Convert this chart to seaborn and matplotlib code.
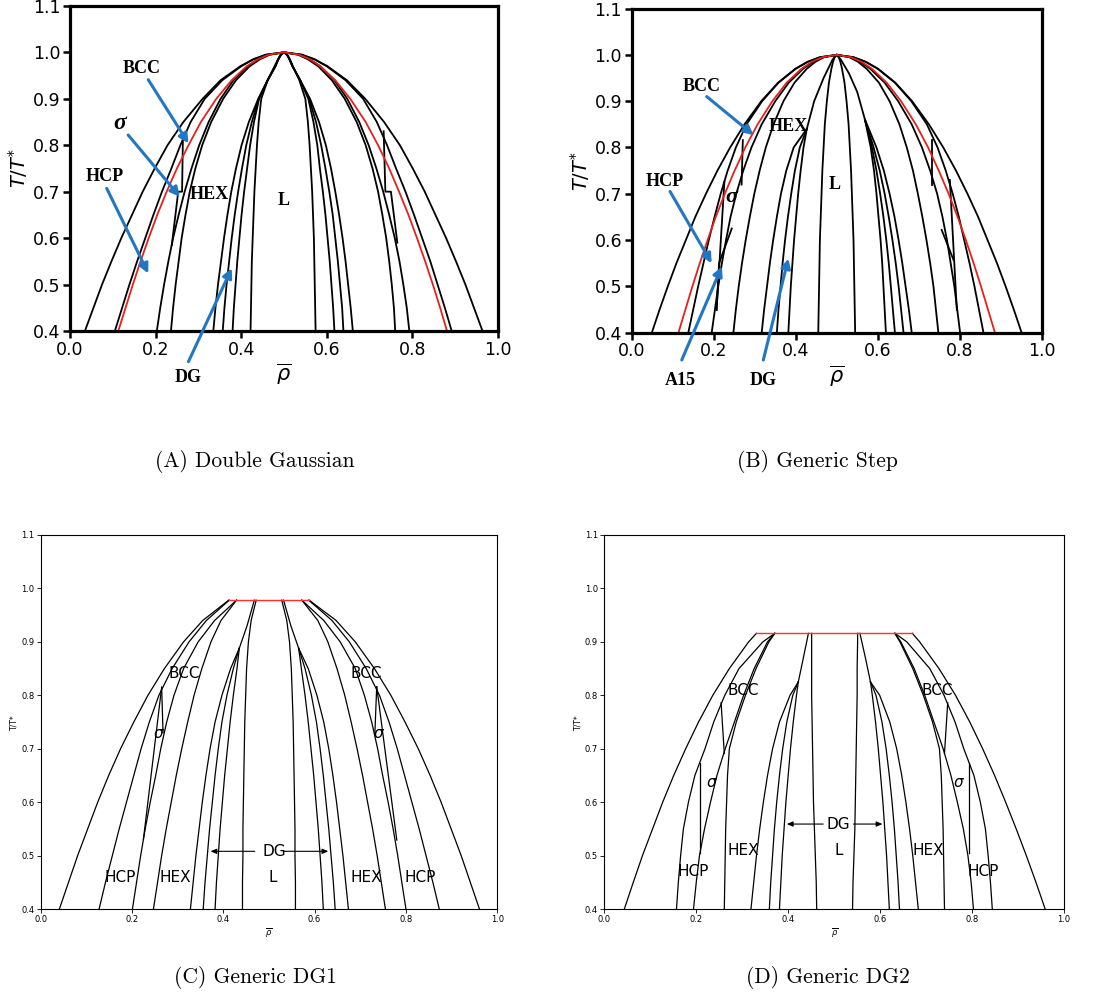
import matplotlib
matplotlib.use("Agg")
import matplotlib.pyplot as plt
import seaborn as sns

# ---------------- panel A : Double Gaussian ----------------
A_T = [0.40, 0.45, 0.50, 0.55, 0.60, 0.65, 0.70, 0.75, 0.80, 0.85, 0.90, 0.94, 0.97, 0.985, 0.995, 1.00]
A_outer_L = [0.035, 0.055, 0.075, 0.097, 0.120, 0.145, 0.170, 0.198, 0.228, 0.265, 0.310, 0.352, 0.398, 0.428, 0.458, 0.500]
A_c2_L = [0.105, 0.122, 0.139, 0.157, 0.176, 0.195, 0.215, 0.237, 0.258, 0.282, 0.315, 0.356, 0.400, 0.429, 0.459, 0.500]
A_c3_L = [0.203, 0.211, 0.220, 0.230, 0.241, 0.254, 0.268, 0.284, 0.302, 0.324, 0.352, 0.382, 0.415, 0.440, 0.465, 0.500]
A_c4_L = [0.236, 0.241, 0.247, 0.254, 0.261, 0.270, 0.280, 0.293, 0.309, 0.330, 0.358, 0.388, 0.420, 0.444, 0.467, 0.500]
A_g1_L = [0.335, 0.340, 0.346, 0.353, 0.360, 0.368, 0.377, 0.388, 0.401, 0.418, 0.440, 0.462, 0.480, 0.487, 0.493, 0.500]
A_g2_L = [0.357, 0.361, 0.366, 0.372, 0.378, 0.385, 0.393, 0.402, 0.412, 0.425, 0.441, 0.462, 0.480, 0.487, 0.493, 0.500]
A_g3_L = [0.380, 0.383, 0.387, 0.391, 0.396, 0.401, 0.407, 0.414, 0.421, 0.430, 0.442, 0.462, 0.480, 0.487, 0.493, 0.500]
A_g4_L = [0.422, 0.423, 0.424, 0.425, 0.427, 0.429, 0.431, 0.434, 0.437, 0.441, 0.447, 0.462, 0.478, 0.486, 0.492, 0.500]
A_g4_R = [0.574, 0.573, 0.572, 0.571, 0.570, 0.568, 0.566, 0.563, 0.560, 0.556, 0.550, 0.536, 0.521, 0.514, 0.508, 0.500]
A_g3_R = [0.618, 0.615, 0.611, 0.607, 0.602, 0.597, 0.591, 0.584, 0.578, 0.569, 0.557, 0.538, 0.520, 0.513, 0.507, 0.500]
A_g2_R = [0.639, 0.636, 0.631, 0.626, 0.620, 0.614, 0.606, 0.597, 0.587, 0.575, 0.559, 0.538, 0.520, 0.513, 0.507, 0.500]
A_g1_R = [0.661, 0.656, 0.650, 0.644, 0.637, 0.629, 0.620, 0.610, 0.598, 0.582, 0.561, 0.538, 0.520, 0.513, 0.507, 0.500]
A_c4_R = [0.760, 0.757, 0.752, 0.746, 0.739, 0.730, 0.720, 0.707, 0.691, 0.670, 0.642, 0.612, 0.580, 0.556, 0.533, 0.500]
A_c3_R = [0.793, 0.787, 0.779, 0.770, 0.759, 0.746, 0.732, 0.716, 0.698, 0.676, 0.648, 0.618, 0.585, 0.560, 0.535, 0.500]
A_c2_R = [0.892, 0.876, 0.859, 0.842, 0.823, 0.804, 0.784, 0.762, 0.741, 0.717, 0.685, 0.644, 0.600, 0.571, 0.541, 0.500]
A_outer_R = [0.964, 0.944, 0.924, 0.902, 0.879, 0.854, 0.829, 0.801, 0.771, 0.734, 0.690, 0.647, 0.602, 0.572, 0.542, 0.500]
A_red_L = [0.113, 0.130, 0.147, 0.165, 0.184, 0.204, 0.226, 0.250, 0.277, 0.306, 0.342, 0.378, 0.413, 0.439, 0.465, 0.500]
A_red_R = [0.881, 0.865, 0.848, 0.830, 0.811, 0.791, 0.769, 0.746, 0.720, 0.691, 0.655, 0.620, 0.585, 0.561, 0.535, 0.500]
A_sig_L_rho = [0.264, 0.262, 0.253, 0.238]
A_sig_L_T = [0.82, 0.70, 0.70, 0.585]
A_sig_R_rho = [0.733, 0.737, 0.750, 0.765]
A_sig_R_T = [0.83, 0.70, 0.70, 0.59]

# ---------------- panel B : Generic Step ----------------
B_T = [0.40, 0.45, 0.50, 0.55, 0.60, 0.65, 0.70, 0.75, 0.80, 0.85, 0.90, 0.94, 0.97, 0.985, 0.995, 1.00]
B_outer_L = [0.049, 0.068, 0.088, 0.109, 0.132, 0.155, 0.181, 0.209, 0.240, 0.275, 0.316, 0.357, 0.399, 0.429, 0.459, 0.500]
B_c2_L = [0.138, 0.150, 0.162, 0.175, 0.188, 0.202, 0.217, 0.234, 0.254, 0.280, 0.318, 0.358, 0.400, 0.429, 0.459, 0.500]
B_c3_L = [0.195, 0.203, 0.211, 0.220, 0.230, 0.241, 0.255, 0.272, 0.292, 0.317, 0.350, 0.383, 0.418, 0.442, 0.466, 0.500]
B_c4_L = [0.248, 0.254, 0.261, 0.269, 0.278, 0.288, 0.299, 0.312, 0.327, 0.346, 0.370, 0.397, 0.427, 0.448, 0.469, 0.500]
B_in_L = [0.455, 0.456, 0.457, 0.458, 0.459, 0.461, 0.463, 0.465, 0.468, 0.471, 0.476, 0.481, 0.487, 0.491, 0.495, 0.500]
B_in_R = [0.545, 0.544, 0.543, 0.542, 0.541, 0.539, 0.537, 0.535, 0.532, 0.529, 0.524, 0.519, 0.513, 0.509, 0.505, 0.500]
B_c4_R = [0.748, 0.742, 0.736, 0.728, 0.719, 0.709, 0.698, 0.686, 0.671, 0.653, 0.629, 0.603, 0.573, 0.552, 0.531, 0.500]
B_c3_R = [0.801, 0.794, 0.787, 0.778, 0.769, 0.758, 0.745, 0.728, 0.708, 0.683, 0.650, 0.617, 0.582, 0.558, 0.534, 0.500]
B_c2_R = [0.858, 0.847, 0.836, 0.824, 0.811, 0.798, 0.783, 0.766, 0.746, 0.720, 0.682, 0.642, 0.600, 0.571, 0.541, 0.500]
B_outer_R = [0.951, 0.932, 0.912, 0.891, 0.868, 0.845, 0.819, 0.791, 0.760, 0.725, 0.684, 0.643, 0.601, 0.571, 0.541, 0.500]
B_red_L = [0.114, 0.131, 0.148, 0.166, 0.185, 0.205, 0.227, 0.251, 0.277, 0.307, 0.343, 0.378, 0.414, 0.439, 0.465, 0.500]
B_red_R = [0.886, 0.869, 0.852, 0.834, 0.815, 0.795, 0.773, 0.749, 0.723, 0.693, 0.657, 0.622, 0.586, 0.561, 0.535, 0.500]
B_fanL_T = [0.40, 0.45, 0.50, 0.55, 0.60, 0.65, 0.70, 0.75, 0.80, 0.84]
B_fanL_1 = [0.317, 0.323, 0.330, 0.337, 0.345, 0.354, 0.364, 0.377, 0.395, 0.427]
B_fanL_2 = [0.354, 0.358, 0.363, 0.368, 0.374, 0.381, 0.389, 0.398, 0.410, 0.427]
B_fanL_3 = [0.382, 0.385, 0.388, 0.392, 0.396, 0.401, 0.406, 0.412, 0.419, 0.427]
B_fanR_T = [0.40, 0.45, 0.50, 0.55, 0.60, 0.65, 0.70, 0.75, 0.80, 0.86]
B_fanR_1 = [0.620, 0.617, 0.614, 0.611, 0.607, 0.602, 0.597, 0.591, 0.583, 0.569]
B_fanR_2 = [0.642, 0.637, 0.632, 0.627, 0.621, 0.614, 0.606, 0.597, 0.586, 0.569]
B_fanR_3 = [0.663, 0.657, 0.651, 0.644, 0.636, 0.627, 0.617, 0.605, 0.590, 0.569]
B_fanR_4 = [0.683, 0.676, 0.668, 0.660, 0.651, 0.641, 0.629, 0.615, 0.597, 0.569]
B_cuspL_rho = [0.427, 0.445, 0.468, 0.490, 0.500]
B_cuspL_T = [0.84, 0.90, 0.95, 0.99, 1.00]
B_cuspR_rho = [0.569, 0.550, 0.530, 0.510, 0.500]
B_cuspR_T = [0.86, 0.92, 0.96, 0.99, 1.00]
B_segs = [
    ([0.271, 0.268], [0.816, 0.720]),
    ([0.226, 0.207], [0.726, 0.449]),
    ([0.207, 0.213, 0.244], [0.449, 0.550, 0.625]),
    ([0.733, 0.733], [0.816, 0.719]),
    ([0.776, 0.793], [0.730, 0.449]),
    ([0.756, 0.785], [0.622, 0.557]),
]

# ---------------- panel C : Generic DG1 ----------------
C_T = [0.40, 0.45, 0.50, 0.55, 0.60, 0.65, 0.70, 0.75, 0.80, 0.85, 0.90, 0.94, 0.978]
C_outer_L = [0.041, 0.061, 0.081, 0.103, 0.125, 0.149, 0.175, 0.204, 0.235, 0.271, 0.313, 0.355, 0.412]
C_c2_L = [0.128, 0.142, 0.157, 0.172, 0.188, 0.204, 0.220, 0.238, 0.259, 0.288, 0.325, 0.363, 0.413]
C_c3_L = [0.201, 0.210, 0.219, 0.229, 0.240, 0.252, 0.263, 0.276, 0.292, 0.313, 0.345, 0.381, 0.429]
C_c4_L = [0.247, 0.256, 0.265, 0.275, 0.286, 0.297, 0.309, 0.322, 0.336, 0.353, 0.373, 0.395, 0.429]
C_in_L = [0.442, 0.442, 0.443, 0.443, 0.444, 0.445, 0.446, 0.447, 0.449, 0.451, 0.455, 0.461, 0.472]
C_in_R = [0.558, 0.558, 0.557, 0.557, 0.556, 0.555, 0.554, 0.553, 0.551, 0.549, 0.545, 0.539, 0.528]
C_c4_R = [0.755, 0.746, 0.737, 0.727, 0.716, 0.705, 0.693, 0.680, 0.666, 0.649, 0.629, 0.607, 0.572]
C_c3_R = [0.800, 0.791, 0.782, 0.772, 0.761, 0.749, 0.738, 0.725, 0.709, 0.689, 0.656, 0.620, 0.572]
C_c2_R = [0.873, 0.859, 0.844, 0.829, 0.813, 0.797, 0.781, 0.763, 0.742, 0.713, 0.676, 0.638, 0.587]
C_outer_R = [0.961, 0.941, 0.921, 0.899, 0.877, 0.853, 0.827, 0.798, 0.767, 0.731, 0.689, 0.647, 0.588]
C_fan_T = [0.40, 0.45, 0.50, 0.55, 0.60, 0.65, 0.70, 0.75, 0.80, 0.85, 0.888]
C_fanL_1 = [0.328, 0.334, 0.340, 0.347, 0.354, 0.362, 0.371, 0.382, 0.397, 0.416, 0.435]
C_fanL_2 = [0.356, 0.360, 0.365, 0.370, 0.376, 0.382, 0.389, 0.397, 0.408, 0.422, 0.435]
C_fanL_3 = [0.382, 0.385, 0.389, 0.393, 0.398, 0.403, 0.409, 0.415, 0.422, 0.430, 0.435]
C_fanR_1 = [0.674, 0.668, 0.662, 0.655, 0.648, 0.640, 0.631, 0.620, 0.605, 0.586, 0.565]
C_fanR_2 = [0.645, 0.641, 0.636, 0.631, 0.625, 0.619, 0.612, 0.604, 0.593, 0.579, 0.565]
C_fanR_3 = [0.619, 0.616, 0.612, 0.608, 0.603, 0.598, 0.592, 0.586, 0.579, 0.571, 0.565]
C_segs = [
    ([0.435, 0.452, 0.468], [0.888, 0.930, 0.978]),
    ([0.565, 0.548, 0.532], [0.888, 0.930, 0.978]),
    ([0.265, 0.268], [0.815, 0.730]),
    ([0.265, 0.225], [0.815, 0.530]),
    ([0.736, 0.732], [0.816, 0.729]),
    ([0.736, 0.780], [0.816, 0.529]),
]
C_top_rho = [0.413, 0.588]
C_top_T = [0.978, 0.978]

# ---------------- panel D : Generic DG2 ----------------
D_T = [0.40, 0.45, 0.50, 0.55, 0.60, 0.65, 0.70, 0.75, 0.80, 0.85, 0.90, 0.916]
D_outer_L = [0.0435, 0.063, 0.083, 0.105, 0.127, 0.151, 0.177, 0.205, 0.236, 0.272, 0.314, 0.331]
D_c2_L = [0.157, 0.161, 0.166, 0.172, 0.183, 0.197, 0.219, 0.238, 0.262, 0.293, 0.345, 0.371]
D_c3_L = [0.194, 0.200, 0.207, 0.218, 0.231, 0.245, 0.263, 0.283, 0.303, 0.326, 0.355, 0.371]
D_c4_L = [0.261, 0.262, 0.263, 0.264, 0.266, 0.268, 0.272, 0.287, 0.307, 0.330, 0.358, 0.371]
D_in_L = [0.462, 0.461, 0.459, 0.457, 0.455, 0.454, 0.453, 0.452, 0.451, 0.451, 0.451, 0.451]
D_in_R = [0.540, 0.541, 0.543, 0.545, 0.546, 0.547, 0.548, 0.549, 0.550, 0.550, 0.551, 0.551]
D_c4_R = [0.740, 0.739, 0.738, 0.737, 0.735, 0.733, 0.729, 0.714, 0.694, 0.671, 0.643, 0.632]
D_c3_R = [0.803, 0.798, 0.791, 0.781, 0.768, 0.754, 0.737, 0.717, 0.697, 0.674, 0.645, 0.632]
D_c2_R = [0.844, 0.840, 0.835, 0.829, 0.818, 0.804, 0.782, 0.763, 0.739, 0.708, 0.658, 0.632]
D_outer_R = [0.959, 0.939, 0.918, 0.896, 0.873, 0.849, 0.823, 0.795, 0.764, 0.728, 0.686, 0.670]
D_fan_T = [0.40, 0.45, 0.50, 0.55, 0.60, 0.65, 0.70, 0.75, 0.80, 0.825]
D_fanL_1 = [0.319, 0.325, 0.331, 0.338, 0.346, 0.355, 0.366, 0.381, 0.404, 0.422]
D_fanL_2 = [0.359, 0.362, 0.366, 0.370, 0.375, 0.381, 0.388, 0.397, 0.410, 0.422]
D_fanL_3 = [0.381, 0.384, 0.387, 0.391, 0.395, 0.400, 0.405, 0.411, 0.418, 0.422]
D_fanR_1 = [0.683, 0.677, 0.671, 0.664, 0.656, 0.647, 0.636, 0.621, 0.599, 0.579]
D_fanR_2 = [0.642, 0.639, 0.635, 0.631, 0.626, 0.620, 0.613, 0.604, 0.591, 0.579]
D_fanR_3 = [0.620, 0.617, 0.614, 0.610, 0.606, 0.601, 0.596, 0.590, 0.583, 0.579]
D_segs = [
    ([0.422, 0.433, 0.444], [0.825, 0.870, 0.916]),
    ([0.579, 0.568, 0.556], [0.825, 0.870, 0.916]),
    ([0.254, 0.261], [0.786, 0.691]),
    ([0.208, 0.208], [0.673, 0.504]),
    ([0.747, 0.740], [0.786, 0.691]),
    ([0.793, 0.793], [0.673, 0.504]),
]
D_top_rho = [0.331, 0.670]
D_top_T = [0.916, 0.916]

BLUE = "#2277c4"
RED = "#e8201c"
SERIF = "Liberation Serif"


def line(ax, rho, temp, color="black", lw=1.2):
    sns.lineplot(x=rho, y=temp, ax=ax, color=color, linewidth=lw,
                 sort=False, estimator=None)


def style_big(ax):
    ax.set_xlim(0, 1)
    ax.set_ylim(0.4, 1.1)
    ax.set_xticks([0, 0.2, 0.4, 0.6, 0.8, 1.0])
    ax.set_xticklabels(["0.0", "0.2", "0.4", "0.6", "0.8", "1.0"])
    ax.set_yticks([0.4, 0.5, 0.6, 0.7, 0.8, 0.9, 1.0, 1.1])
    ax.set_yticklabels(["0.4", "0.5", "0.6", "0.7", "0.8", "0.9", "1.0", "1.1"])
    for s in ax.spines.values():
        s.set_linewidth(2.3)
    ax.tick_params(width=1.8, length=5, labelsize=12.5, pad=2)
    ax.set_xlabel(r"$\overline{\rho}$", fontsize=15, labelpad=2)
    ax.set_ylabel(r"$T/T^{*}$", fontsize=14, labelpad=2)


def style_small(ax):
    ax.set_xlim(0, 1)
    ax.set_ylim(0.4, 1.1)
    ax.set_xticks([0, 0.2, 0.4, 0.6, 0.8, 1.0])
    ax.set_xticklabels(["0.0", "0.2", "0.4", "0.6", "0.8", "1.0"])
    ax.set_yticks([0.4, 0.5, 0.6, 0.7, 0.8, 0.9, 1.0, 1.1])
    ax.set_yticklabels(["0.4", "0.5", "0.6", "0.7", "0.8", "0.9", "1.0", "1.1"])
    for s in ax.spines.values():
        s.set_linewidth(0.8)
    ax.tick_params(width=0.6, length=3, labelsize=6, pad=1.5)
    ax.set_xlabel(r"$\overline{\rho}$", fontsize=6, labelpad=1)
    ax.set_ylabel("T/T*", fontsize=5.5, labelpad=2)


def bold(ax, x, y, s, size=13, style="normal"):
    ax.text(x, y, s, ha="center", va="center", fontsize=size, fontweight="bold",
            fontfamily=SERIF, fontstyle=style, clip_on=False)


def blue_arrow(ax, start, tip):
    ax.annotate("", xy=tip, xytext=start, annotation_clip=False,
                arrowprops=dict(arrowstyle="-|>,head_length=0.55,head_width=0.28",
                                color=BLUE, lw=2.2, shrinkA=0, shrinkB=0))


def dg_arrow(ax, start, tip):
    ax.annotate("", xy=tip, xytext=start,
                arrowprops=dict(arrowstyle="-|>,head_length=0.35,head_width=0.15",
                                color="black", lw=0.8, shrinkA=0, shrinkB=0))


fig = plt.figure(figsize=(11.05, 10.02), dpi=100)
axA = fig.add_axes([0.0633, 0.6697, 0.3873, 0.3244])
axB = fig.add_axes([0.5717, 0.6680, 0.3710, 0.3234])
axC = fig.add_axes([0.0368, 0.0928, 0.4132, 0.3733])
axD = fig.add_axes([0.5469, 0.0928, 0.4160, 0.3733])

# ---- A
for c in [A_outer_L, A_c2_L, A_c3_L, A_c4_L, A_g1_L, A_g2_L, A_g3_L, A_g4_L,
          A_g4_R, A_g3_R, A_g2_R, A_g1_R, A_c4_R, A_c3_R, A_c2_R, A_outer_R]:
    line(axA, c, A_T, lw=1.3)
line(axA, A_sig_L_rho, A_sig_L_T, lw=1.3)
line(axA, A_sig_R_rho, A_sig_R_T, lw=1.3)
line(axA, A_red_L, A_T, color=RED, lw=1.3)
line(axA, A_red_R, A_T, color=RED, lw=1.3)
style_big(axA)
bold(axA, 0.168, 0.966, "BCC")
blue_arrow(axA, (0.183, 0.941), (0.277, 0.804))
bold(axA, 0.117, 0.846, "σ", size=17, style="italic")
blue_arrow(axA, (0.136, 0.822), (0.257, 0.689))
bold(axA, 0.082, 0.732, "HCP")
blue_arrow(axA, (0.086, 0.707), (0.183, 0.524))
bold(axA, 0.325, 0.693, "HEX")
bold(axA, 0.499, 0.682, "L")
bold(axA, 0.277, 0.300, "DG")
blue_arrow(axA, (0.277, 0.334), (0.378, 0.535))

# ---- B
for c in [B_outer_L, B_c2_L, B_c3_L, B_c4_L, B_in_L, B_in_R, B_c4_R, B_c3_R,
          B_c2_R, B_outer_R]:
    line(axB, c, B_T, lw=1.3)
for c in [B_fanL_1, B_fanL_2, B_fanL_3]:
    line(axB, c, B_fanL_T, lw=1.3)
for c in [B_fanR_1, B_fanR_2, B_fanR_3, B_fanR_4]:
    line(axB, c, B_fanR_T, lw=1.3)
line(axB, B_cuspL_rho, B_cuspL_T, lw=1.3)
line(axB, B_cuspR_rho, B_cuspR_T, lw=1.3)
for r, t in B_segs:
    line(axB, r, t, lw=1.3)
line(axB, B_red_L, B_T, color=RED, lw=1.3)
line(axB, B_red_R, B_T, color=RED, lw=1.3)
style_big(axB)
bold(axB, 0.171, 0.931, "BCC")
blue_arrow(axB, (0.183, 0.910), (0.297, 0.827))
bold(axB, 0.382, 0.846, "HEX")
bold(axB, 0.081, 0.726, "HCP")
blue_arrow(axB, (0.0935, 0.705), (0.195, 0.550))
bold(axB, 0.244, 0.694, "σ", size=16, style="italic")
bold(axB, 0.118, 0.296, "A15")
blue_arrow(axB, (0.122, 0.341), (0.220, 0.543))
bold(axB, 0.321, 0.296, "DG")
blue_arrow(axB, (0.321, 0.341), (0.382, 0.560))
bold(axB, 0.496, 0.719, "L")

# ---- C
for c in [C_outer_L, C_c2_L, C_c3_L, C_c4_L, C_in_L, C_in_R, C_c4_R, C_c3_R,
          C_c2_R, C_outer_R]:
    line(axC, c, C_T, lw=0.9)
for c in [C_fanL_1, C_fanL_2, C_fanL_3, C_fanR_1, C_fanR_2, C_fanR_3]:
    line(axC, c, C_fan_T, lw=0.9)
for r, t in C_segs:
    line(axC, r, t, lw=0.9)
line(axC, C_top_rho, C_top_T, color="#ff3030", lw=1.0)
style_small(axC)
for x, y, s in [(0.314, 0.840, "BCC"), (0.712, 0.840, "BCC"),
                (0.175, 0.459, "HCP"), (0.832, 0.459, "HCP"),
                (0.295, 0.459, "HEX"), (0.714, 0.459, "HEX"),
                (0.508, 0.459, "L"), (0.511, 0.508, "DG"),
                (0.260, 0.729, r"$\sigma$"), (0.742, 0.729, r"$\sigma$")]:
    axC.text(x, y, s, ha="center", va="center", fontsize=11)
dg_arrow(axC, (0.469, 0.508), (0.372, 0.508))
dg_arrow(axC, (0.531, 0.508), (0.630, 0.508))

# ---- D
for c in [D_outer_L, D_c2_L, D_c3_L, D_c4_L, D_in_L, D_in_R, D_c4_R, D_c3_R,
          D_c2_R, D_outer_R]:
    line(axD, c, D_T, lw=0.9)
for c in [D_fanL_1, D_fanL_2, D_fanL_3, D_fanR_1, D_fanR_2, D_fanR_3]:
    line(axD, c, D_fan_T, lw=0.9)
for r, t in D_segs:
    line(axD, r, t, lw=0.9)
line(axD, D_top_rho, D_top_T, color="#ff3030", lw=1.0)
style_small(axD)
for x, y, s in [(0.302, 0.809, "BCC"), (0.725, 0.809, "BCC"),
                (0.194, 0.470, "HCP"), (0.825, 0.470, "HCP"),
                (0.302, 0.509, "HEX"), (0.705, 0.509, "HEX"),
                (0.509, 0.509, "L"), (0.509, 0.559, "DG"),
                (0.234, 0.637, r"$\sigma$"), (0.772, 0.637, r"$\sigma$")]:
    axD.text(x, y, s, ha="center", va="center", fontsize=11)
dg_arrow(axD, (0.476, 0.559), (0.397, 0.559))
dg_arrow(axD, (0.542, 0.559), (0.605, 0.559))

# ---- captions
for x, y, s in [(0.231, 0.539, "(A) Double Gaussian"),
                (0.740, 0.539, "(B) Generic Step"),
                (0.231, 0.024, "(C) Generic DG1"),
                (0.749, 0.024, "(D) Generic DG2")]:
    fig.text(x, y, s, ha="center", va="center", fontsize=15.5, fontfamily="cmr10")

fig.savefig("out.png", dpi=100)
